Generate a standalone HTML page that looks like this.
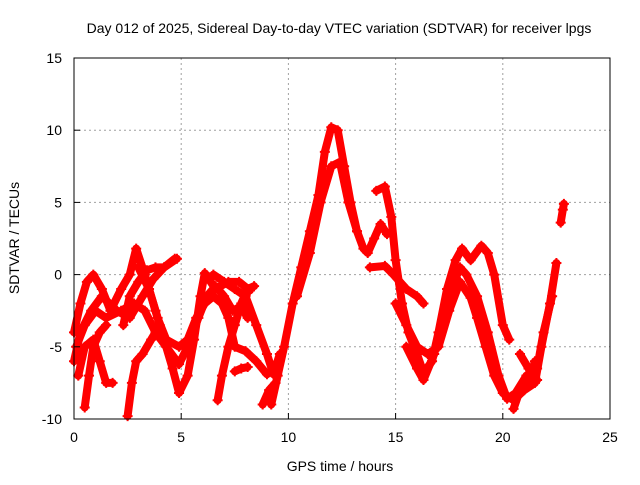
<!DOCTYPE html>
<html><head><meta charset="utf-8"><style>
body{margin:0;background:#fff}
svg text{font-family:"Liberation Sans",sans-serif;font-size:14px;fill:#000}
</style></head><body>
<svg id="chart" width="640" height="480" xmlns="http://www.w3.org/2000/svg">
<rect width="640" height="480" fill="#fff"/>
<text x="339" y="33" text-anchor="middle">Day 012 of 2025, Sidereal Day-to-day VTEC variation (SDTVAR) for receiver lpgs</text>
<text x="340" y="471" text-anchor="middle">GPS time / hours</text>
<text transform="translate(19,238) rotate(-90)" text-anchor="middle">SDTVAR / TECUs</text>
<g id="grid"></g><g id="marks"></g><g id="axes"></g>
</svg>
<script>
const xTicks=[0,5,10,15,20,25];
const yTicks=[-10,-5,0,5,10,15];
const seriesA=[[9.2,-9],[9.5,-7],[9.8,-5],[10.2,-2],[10.6,0.5],[11,3],[11.4,5.5],[11.7,8.5],[12,10.2],[12.3,10],[12.6,7.5],[12.9,5],[13.2,3],[13.5,1.8],[13.7,1.5],[14,2.5],[14.3,3.5],[14.6,2.8]];
const seriesB=[[10.4,-1.5],[11,1.5],[11.5,5],[12,7.5],[12.4,7.8],[12.8,5],[13.2,3]];
const seriesC=[[14.1,5.8],[14.5,6.1],[14.8,4],[15,1],[15.3,-2],[15.6,-4],[16,-5.5],[16.3,-6.8],[16.7,-6],[17,-4],[17.4,-1],[17.8,1],[18.1,1.8],[18.5,1],[19,2],[19.3,1.5],[19.6,0],[20,-3.5],[20.3,-4.5]];
const seriesD=[[13.8,0.5],[14.5,0.6],[14.9,0],[15.5,-1],[16,-1.5],[16.3,-2]];
const seriesE=[[15,-2],[15.5,-3.5],[16,-5],[16.5,-5.5],[17,-5],[17.5,-2.5],[18,-0.5],[18.5,-1.6],[18.8,-3],[19.2,-5],[19.6,-7],[20,-8.2],[20.5,-8.7],[21,-8],[21.5,-7.5],[21.8,-5],[22.2,-2],[22.5,0.8]];
const seriesF=[[15.5,-5],[16,-6.5],[16.3,-7.3],[16.8,-5.5],[17.2,-3],[17.6,-1],[18,0.5],[18.3,0],[18.8,-1.5],[19.3,-4],[19.8,-7],[20.2,-8.6],[20.6,-8.2],[21.1,-7],[21.6,-6.5],[21.9,-4],[22.3,-1.5]];
const seriesG=[[20.5,-9.3],[20.8,-8],[21.2,-7.5],[21.5,-6]];
const seriesH=[[20.8,-5.5],[21.2,-6.5],[21.6,-7.3]];
const seriesI=[[22.7,3.6],[22.8,4.5],[22.85,4.9]];
const seriesJ=[[0,-4],[0.3,-2],[0.6,-0.5],[0.9,0],[1.3,-1],[1.7,-2.5],[2.2,-1],[2.6,0],[2.9,1.8],[3.3,0],[3.8,-2.5],[4.2,-4.5],[4.6,-6.5],[4.9,-8.2],[5.3,-7],[5.6,-4.5],[5.9,-1.5],[6.1,0.1],[6.6,-1],[7.2,-0.5],[7.7,-0.5],[8.2,-1.1]];
const seriesK=[[0,-6],[0.3,-4],[0.8,-2.5],[1.3,-1.5],[2,-2.5],[2.6,-3],[3.2,-1.5],[3.7,-0.3],[4.2,0.5],[4.8,1.1]];
const seriesL=[[0.1,-5],[0.5,-3.5],[1,-2.5],[1.5,-3],[2.2,-2.5],[2.8,-2],[3.3,-2.5],[3.8,-4],[4.3,-5],[4.9,-6.2],[5.3,-5],[5.8,-3],[6.2,-1.5],[6.6,-0.8],[7,-1.5],[7.4,-2.5],[7.8,-2.2],[8.1,-3]];
const seriesM=[[0.2,-7],[0.5,-5],[0.9,-4.5],[1.2,-6],[1.5,-7.5],[1.8,-7.5]];
const seriesN=[[0.5,-9.2],[0.7,-7],[0.9,-5],[1.2,-4],[1.5,-3.5]];
const seriesO=[[2.5,-9.8],[2.7,-7.5],[2.9,-6],[3.2,-5.5],[3.6,-4.5],[4,-3.5]];
const seriesP=[[3,0.5],[3.5,-1],[3.9,-3],[4.3,-4.5],[4.9,-5],[5.3,-4.5],[5.7,-3],[6.1,-2],[6.5,-1.5],[6.9,-2],[7.2,-3],[7.5,-5],[8,-5.3],[8.5,-6],[9,-6.9],[9.3,-6.5]];
const seriesQ=[[6.7,-8.7],[6.9,-7],[7.2,-5],[7.5,-3.5],[7.8,-2],[8.1,-1],[8.4,-0.8]];
const seriesR=[[7.5,-6.7],[7.8,-6.5],[8.1,-6.4]];
const seriesS=[[6.5,0],[7,-0.5],[7.5,-1],[8,-1.5],[8.5,-3.5],[9,-5.5],[9.3,-6.9],[9.6,-5.5]];
const seriesT=[[8.8,-9],[9.1,-8],[9.4,-7.5]];
const seriesU=[[2.3,-3.5],[2.6,-1.5],[3,-0.5],[3.4,0.3],[3.8,0.5],[4.2,0.5],[4.7,1.1]];
const allSeries=[seriesA,seriesB,seriesC,seriesD,seriesE,seriesF,seriesG,seriesH,seriesI,seriesJ,seriesK,seriesL,seriesM,seriesN,seriesO,seriesP,seriesQ,seriesR,seriesS,seriesT,seriesU];
const L=74,R=610,T=58,B=419;
const xs=v=>L+(v-0)/25*(R-L);
const ys=v=>B-(v+10)/25*(B-T);
const NS="http://www.w3.org/2000/svg";
function mk(t,a,p){const e=document.createElementNS(NS,t);for(const k in a)e.setAttribute(k,a[k]);p.appendChild(e);return e;}
const grid=document.getElementById('grid'),axes=document.getElementById('axes'),marks=document.getElementById('marks');
xTicks.forEach(v=>{
 if(v>0&&v<25){const g=mk('line',{x1:xs(v),x2:xs(v),y1:T,y2:B,stroke:'#a0a0a0','stroke-dasharray':'2,3'},grid);
 
 }
 const t=mk('line',{x1:xs(v),x2:xs(v),y1:B,y2:B-6,stroke:'#000'},axes);
 
 
 const lb=mk('text',{x:xs(v),y:B+23,'text-anchor':'middle'},axes);lb.textContent=v;
 
 
});
yTicks.forEach(v=>{
 if(v>-10&&v<15){const g=mk('line',{x1:L,x2:R,y1:ys(v),y2:ys(v),stroke:'#a0a0a0','stroke-dasharray':'2,3'},grid);
 
 }
 const t=mk('line',{x1:L,x2:L+6,y1:ys(v),y2:ys(v),stroke:'#000'},axes);
 
 
 const lb=mk('text',{x:L-12,y:ys(v)+5,'text-anchor':'end'},axes);lb.textContent=v;
 
 
});
const fr=mk('rect',{x:L,y:T,width:R-L,height:B-T,fill:'none',stroke:'#000'},axes);


allSeries.forEach((s,i)=>{
 const pl=mk('polyline',{points:s.map(p=>xs(p[0])+','+ys(p[1])).join(' '),fill:'none',stroke:'#ff0000','stroke-width':8,'stroke-linejoin':'round','stroke-linecap':'round'},marks);
 
 
 s.forEach(p=>{
  const x=xs(p[0]),y=ys(p[1]);
  const m=mk('path',{d:`M${x-5},${y}H${x+5}M${x},${y-5}V${y+5}`,stroke:'#ff0000','stroke-width':2},marks);
  
  
 });
});
</script>
</body></html>
